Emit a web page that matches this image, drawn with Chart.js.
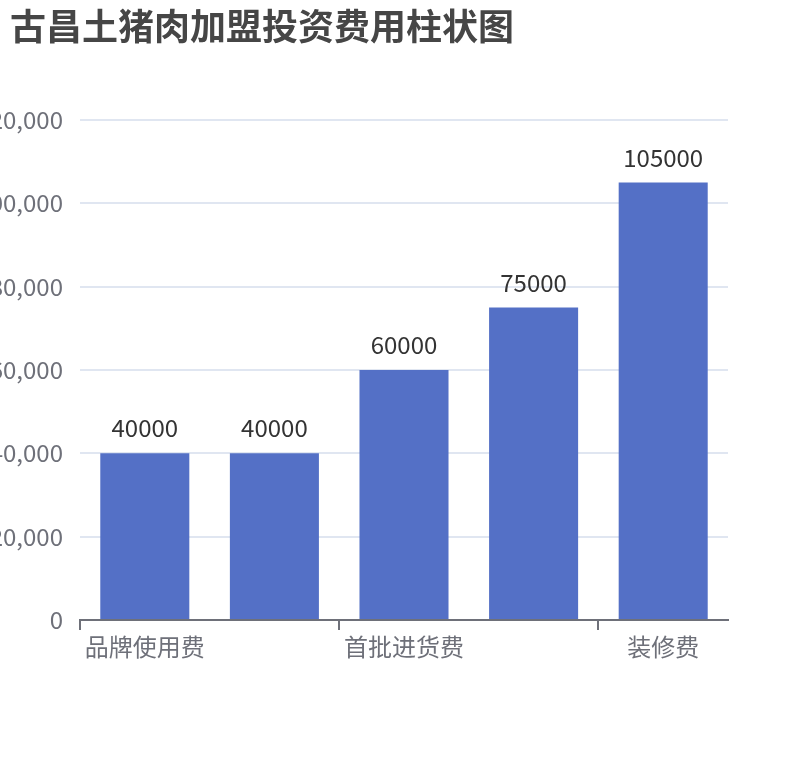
<!DOCTYPE html>
<html>
<head>
<meta charset="utf-8">
<script src="https://cdn.jsdelivr.net/npm/chart.js@4/dist/chart.umd.min.js"></script>
<style>
  html, body { margin: 0; padding: 0; background: #fff; }
  #wrap { width: 810px; height: 760px; }
</style>
</head>
<body>
<div id="wrap"><canvas id="chart"></canvas></div>
<script>
const chartTitle = '古昌土猪肉加盟投资费用柱状图';
// categories 1 and 3 are hidden in the picture (label interval), names are guesses
const categories = ['品牌使用费', '加盟费', '首批进货费', '设备费', '装修费'];
const costs = [40000, 40000, 60000, 75000, 105000];
const yTicks = { min: 0, max: 120000, step: 20000 };

const FONT = '"Noto Sans CJK SC", "Noto Sans", sans-serif';
const AXIS_GREY = '#6e7079';

// title in the top-left corner
const titlePlugin = {
  id: 'cornerTitle',
  afterDraw(chart) {
    const ctx = chart.ctx;
    ctx.save();
    ctx.font = 'bold 36px ' + FONT;
    ctx.fillStyle = '#464646';
    ctx.textAlign = 'left';
    ctx.textBaseline = 'middle';
    ctx.fillText(chartTitle, 10, 26);
    ctx.restore();
  }
};

// numbers above each bar
const valueLabels = {
  id: 'valueLabels',
  afterDatasetsDraw(chart) {
    const ctx = chart.ctx;
    const meta = chart.getDatasetMeta(0);
    ctx.save();
    ctx.font = '24px ' + FONT;
    ctx.fillStyle = '#333';
    ctx.textAlign = 'center';
    ctx.textBaseline = 'alphabetic';
    meta.data.forEach((bar, i) => {
      ctx.fillText(String(costs[i]), bar.x, bar.y - 16);
    });
    ctx.restore();
  }
};

const shownTicks = [0, 2, 4, 5];

new Chart(document.getElementById('chart'), {
  type: 'bar',
  data: {
    labels: categories,
    datasets: [{
      data: costs,
      backgroundColor: '#5470c6',
      categoryPercentage: 1,
      barPercentage: 0.687
    }]
  },
  options: {
    responsive: true,
    maintainAspectRatio: false,
    animation: false,
    layout: { padding: { top: 120, right: 82, left: 0, bottom: 0 } },
    plugins: { legend: { display: false }, tooltip: { enabled: false } },
    scales: {
      x: {
        offset: true,
        afterFit(scale) { scale.height = 140; },
        grid: {
          offset: true,
          drawOnChartArea: false,
          drawTicks: true,
          tickLength: 10,
          color: (c) => shownTicks.includes(c.index) ? AXIS_GREY : 'rgba(0,0,0,0)',
          lineWidth: 2
        },
        border: { display: true, color: AXIS_GREY, width: 2 },
        ticks: {
          autoSkip: false,
          maxRotation: 0,
          padding: 2,
          color: AXIS_GREY,
          font: { size: 24, family: FONT },
          callback: (v, i) => i % 2 === 0 ? categories[i] : ''
        }
      },
      y: {
        min: yTicks.min,
        max: yTicks.max,
        afterFit(scale) { scale.width = 80; },
        border: { display: false },
        grid: { color: '#e0e6f1', lineWidth: 2, drawTicks: false },
        ticks: {
          stepSize: yTicks.step,
          padding: 17,
          color: AXIS_GREY,
          font: { size: 24, family: FONT },
          callback: (v) => v.toLocaleString('en-US')
        }
      }
    }
  },
  plugins: [titlePlugin, valueLabels]
});
</script>
</body>
</html>
